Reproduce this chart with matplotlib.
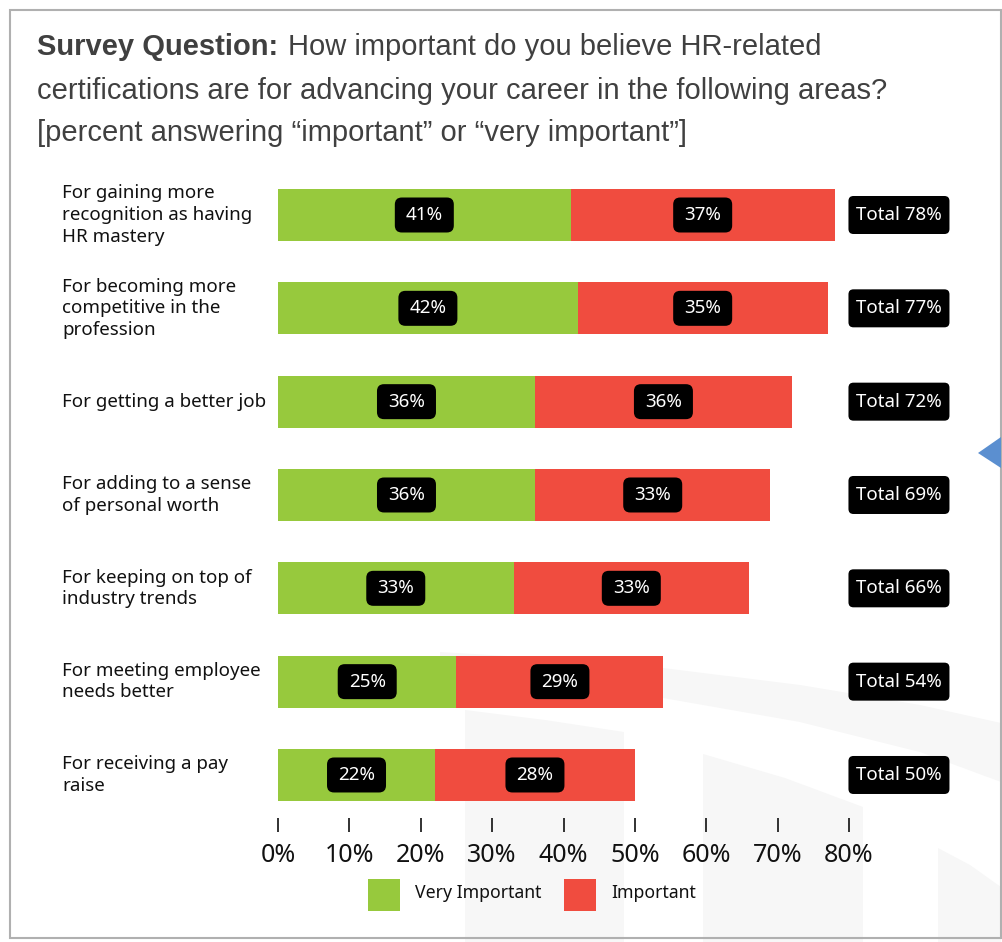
import matplotlib
matplotlib.use("Agg")
import matplotlib.pyplot as plt
from matplotlib.patches import Rectangle, Polygon, FancyBboxPatch
from matplotlib.transforms import IdentityTransform

categories = [
    "For gaining more\nrecognition as having\nHR mastery",
    "For becoming more\ncompetitive in the\nprofession",
    "For getting a better job",
    "For adding to a sense\nof personal worth",
    "For keeping on top of\nindustry trends",
    "For meeting employee\nneeds better",
    "For receiving a pay\nraise",
]
very_important = [41, 42, 36, 36, 33, 25, 22]
important = [37, 35, 36, 33, 33, 29, 28]
totals = [78, 77, 72, 69, 66, 54, 50]
xticks = [0, 10, 20, 30, 40, 50, 60, 70, 80]
tick_labels = ["0%", "10%", "20%", "30%", "40%", "50%", "60%", "70%", "80%"]

GREEN = "#97C93D"
RED = "#F04C3F"
W, H = 1002, 942
DPI = 100
LABEL_FONT = "Noto Sans"
TITLE_FONT = "Liberation Sans"

fig = plt.figure(figsize=(W / DPI, H / DPI), dpi=DPI)
fig.patch.set_facecolor("white")
renderer = fig.canvas.get_renderer()


def fx(px):
    return px / W


def fy(py):
    return 1 - py / H


# faint watermark arcs in the background (pixel space, y downwards)
wm = "#f7f7f7"
bg = fig.add_axes([0, 0, 1, 1], zorder=-5)
bg.set_xlim(0, W)
bg.set_ylim(H, 0)
bg.axis("off")
bands = [
    [(440, 652), (540, 658), (663, 668), (800, 685), (920, 705), (1001, 723),
     (1001, 782), (920, 752), (800, 722), (663, 698), (540, 688), (440, 682)],
    [(465, 710), (545, 720), (624, 732), (624, 942), (465, 942)],
    [(703, 754), (785, 778), (863, 807), (863, 942), (703, 942)],
    [(938, 848), (970, 865), (1001, 887), (1001, 942), (938, 942)],
]
for pts in bands:
    bg.add_patch(Polygon(pts, closed=True, facecolor=wm, edgecolor="none"))

# frame around the chart
fig.add_artist(Rectangle((fx(10), fy(938)), 991 / W, 928 / H,
                         fill=False, edgecolor="#b0b0b0", linewidth=1.5,
                         transform=fig.transFigure))

# blue pointer on the right edge
fig.add_artist(Polygon([(fx(978), fy(453)), (fx(1001), fy(437)), (fx(1001), fy(468))],
                       closed=True, facecolor="#5B8FD0", edgecolor="none",
                       transform=fig.transFigure))

# title
title_color = "#404040"
tsize = 21
head = fig.text(fx(37), fy(47), "Survey Question:", fontsize=tsize, fontweight="bold",
                family=TITLE_FONT, color=title_color, va="center", ha="left")
head_w = head.get_window_extent(renderer).width
fig.text(fx(37 + head_w + 10), fy(47), "How important do you believe HR-related",
         fontsize=tsize, family=TITLE_FONT, color=title_color, va="center", ha="left")
fig.text(fx(37), fy(91), "certifications are for advancing your career in the following areas?",
         fontsize=tsize, family=TITLE_FONT, color=title_color, va="center", ha="left")
fig.text(fx(37), fy(133), "[percent answering \u201cimportant\u201d or \u201cvery important\u201d]",
         fontsize=tsize, family=TITLE_FONT, color=title_color, va="center", ha="left")

# main axes: x 0..80 maps to pixels 278..849
row0, step = 215, 93.33
top_px, bot_px = 168, 818
ax = fig.add_axes([fx(278), fy(bot_px), (849 - 278) / W, (bot_px - top_px) / H])
ax.set_xlim(0, 80)
ax.set_ylim((bot_px - row0) / step, (top_px - row0) / step)
ax.patch.set_alpha(0)
for s in ax.spines.values():
    s.set_visible(False)

ypos = list(range(len(categories)))
bar_h = 52 / step
ax.barh(ypos, very_important, height=bar_h, color=GREEN, zorder=2)
ax.barh(ypos, important, left=very_important, height=bar_h, color=RED, zorder=2)


def tag(x, y, text, w, h, r=6):
    """Black rounded label of fixed pixel size centred on data point (x, y)."""
    cx, cy = ax.transData.transform((x, y))
    fig.add_artist(FancyBboxPatch((cx - w / 2, cy - h / 2), w, h,
                                  boxstyle=f"round,pad=0,rounding_size={r}",
                                  facecolor="black", edgecolor="none",
                                  transform=IdentityTransform(), zorder=4))
    fig.text(cx / W, cy / H, text, ha="center", va="center", color="white",
             fontsize=13.5, family=LABEL_FONT, zorder=5)


for i in ypos:
    v, m, t = very_important[i], important[i], totals[i]
    tag(v / 2, i, f"{v}%", 59, 35, r=7)
    tag(v + m / 2, i, f"{m}%", 59, 35, r=7)
    tag(87.0, i, f"Total {t}%", 101, 38, r=5)
    fig.text(fx(62), fy(row0 + step * i), categories[i],
             ha="left", va="center", fontsize=13.5, family=LABEL_FONT,
             color="#111111", linespacing=1.25)

ax.set_yticks([])
ax.set_xticks(xticks)
ax.set_xticklabels(tick_labels, fontsize=18, family=LABEL_FONT, color="#111111")
ax.tick_params(axis="x", direction="out", length=10, width=1.3, color="#222222", pad=8)

# legend
fig.add_artist(Rectangle((fx(368), fy(911)), 32 / W, 32 / H, facecolor=GREEN,
                         edgecolor="none", transform=fig.transFigure))
fig.text(fx(415), fy(893), "Very Important", fontsize=12.7, family=LABEL_FONT,
         color="#111111", va="center", ha="left")
fig.add_artist(Rectangle((fx(564), fy(911)), 32 / W, 32 / H, facecolor=RED,
                         edgecolor="none", transform=fig.transFigure))
fig.text(fx(611), fy(893), "Important", fontsize=12.7, family=LABEL_FONT,
         color="#111111", va="center", ha="left")

fig.savefig("out.png", dpi=DPI, facecolor="white")
